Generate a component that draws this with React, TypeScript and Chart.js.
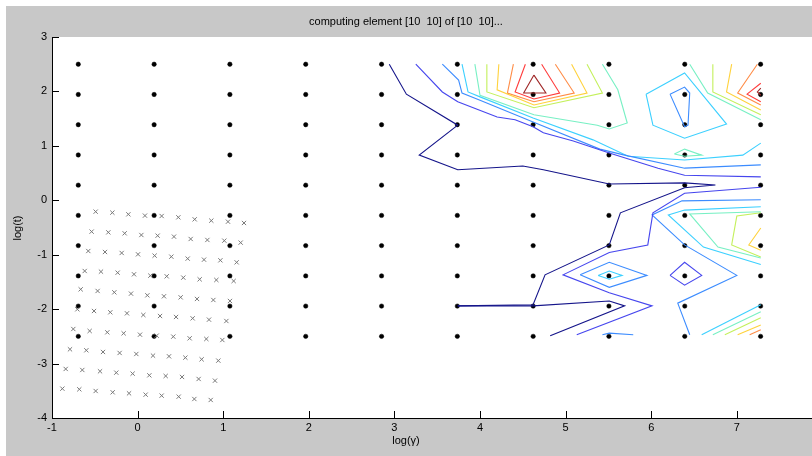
import React, { useEffect, useRef } from 'react';
import { Chart, registerables } from 'chart.js';
Chart.register(...registerables);

const titleText = 'computing element [10  10] of [10  10]...';
const xLabel = 'log(γ)';
const yLabel = 'log(t)';
const xTicks = [-1, 0, 1, 2, 3, 4, 5, 6, 7];
const yTicks = [-4, -3, -2, -1, 0, 1, 2, 3];

const gammaGrid = [-0.693, 0.193, 1.078, 1.964, 2.85, 3.735, 4.621, 5.506, 6.392, 7.278];
const tGrid = [-2.5, -1.944, -1.389, -0.833, -0.278, 0.278, 0.833, 1.389, 1.944, 2.5];

const crossX = [
  -0.49, -0.295, -0.108, 0.086, 0.281, 0.476, 0.667, 0.861, 1.056, 1.243,
  -0.537, -0.342, -0.151, 0.044, 0.234, 0.425, 0.62, 0.815, 1.013, 1.204,
  -0.576, -0.381, -0.186, 0.005, 0.199, 0.394, 0.585, 0.776, 0.967, 1.157,
  -0.618, -0.428, -0.233, -0.042, 0.149, 0.34, 0.534, 0.725, 0.92, 1.122,
  -0.665, -0.467, -0.272, -0.077, 0.114, 0.308, 0.503, 0.694, 0.885, 1.079,
  -0.704, -0.509, -0.319, -0.124, 0.067, 0.262, 0.449, 0.643, 0.834, 1.037,
  -0.751, -0.56, -0.354, -0.163, 0.028, 0.223, 0.417, 0.608, 0.803, 0.99,
  -0.79, -0.599, -0.404, -0.21, -0.015, 0.18, 0.367, 0.558, 0.748, 0.943,
  -0.84, -0.646, -0.439, -0.249, -0.058, 0.137, 0.328, 0.519, 0.713, 0.904,
  -0.879, -0.681, -0.49, -0.291, -0.1, 0.094, 0.281, 0.48, 0.663, 0.854,
];
const crossY = [
  -0.209, -0.227, -0.258, -0.282, -0.289, -0.313, -0.35, -0.374, -0.393, -0.417,
  -0.576, -0.589, -0.607, -0.638, -0.65, -0.668, -0.711, -0.729, -0.742, -0.778,
  -0.932, -0.95, -0.968, -0.993, -1.017, -1.036, -1.072, -1.091, -1.103, -1.14,
  -1.299, -1.311, -1.33, -1.36, -1.385, -1.397, -1.421, -1.452, -1.464, -1.483,
  -1.636, -1.666, -1.691, -1.715, -1.746, -1.764, -1.783, -1.813, -1.832, -1.85,
  -2.003, -2.034, -2.058, -2.077, -2.107, -2.126, -2.144, -2.169, -2.193, -2.218,
  -2.365, -2.401, -2.426, -2.444, -2.469, -2.487, -2.505, -2.536, -2.548, -2.567,
  -2.738, -2.756, -2.787, -2.805, -2.824, -2.854, -2.867, -2.891, -2.922, -2.946,
  -3.099, -3.118, -3.142, -3.167, -3.185, -3.216, -3.228, -3.246, -3.283, -3.314,
  -3.461, -3.473, -3.504, -3.528, -3.547, -3.571, -3.589, -3.608, -3.651, -3.669,
];

const levelColors = ['#14148a', '#4646ee', '#3c8cff', '#3cd0ff', '#78f0c4', '#c4f05c', '#ffd23c', '#ff8c46', '#ff3c3c', '#a02828'];

// contour polylines, [log(gamma), log(t)]
const navyA = [[2.94, 2.5], [3.14, 1.95], [3.74, 1.38], [3.29, 0.83], [3.74, 0.56], [4.5, 0.63], [4.74, 0.56], [5.51, 0.3], [6.39, 0.32], [6.75, 0.28], [6.45, 0.24], [6.39, 0.23], [5.64, -0.23], [5.51, -0.82], [4.76, -1.37], [4.62, -1.92], [3.74, -1.94]];
const navyB = [[3.74, -1.94], [4.62, -1.94], [5.51, -1.85], [5.69, -1.94], [4.82, -2.49]];
const blueA = [[3.25, 2.5], [3.56, 1.99], [3.74, 1.81], [4.2, 1.53], [4.41, 1.48], [4.62, 1.35], [4.74, 1.24], [5.09, 1.09], [5.51, 0.87], [6.08, 0.59], [6.39, 0.46], [7.28, 0.43]];
const blueB = [[7.28, 0.24], [6.39, 0.13], [6.02, -0.23], [5.96, -0.82], [5.51, -0.96], [4.97, -1.37], [5.51, -1.7], [6.01, -1.94], [5.13, -2.47]];
const blueC = [[6.22, -1.38], [6.39, -1.14], [6.59, -1.38], [6.39, -1.56], [6.22, -1.38]];
const lightA = [[3.56, 2.5], [3.75, 2.21], [3.79, 1.97], [4.0, 1.84], [4.62, 1.44], [5.4, 0.94], [5.69, 0.83], [6.39, 0.59], [7.28, 0.65]];
const lightB = [[7.28, 0.01], [6.36, -0.01], [6.01, -0.27], [6.39, -0.82], [7.0, -1.38], [6.31, -1.89], [6.45, -2.47]];
const lightC = [[5.17, -1.37], [5.51, -1.14], [5.95, -1.38], [5.51, -1.6], [5.17, -1.37]];
const lightD = [[5.43, -2.47], [5.51, -2.44], [5.79, -2.47]];
const lightE = [[6.22, 1.95], [6.39, 2.08], [6.45, 1.97], [6.43, 1.38], [6.39, 1.35], [6.22, 1.95]];
const cyanA = [[3.79, 2.5], [3.86, 1.99], [4.0, 1.9], [4.62, 1.51], [5.32, 1.11], [5.73, 0.81], [6.39, 0.74], [7.07, 0.83], [7.28, 1.05]];
const cyanB = [[5.94, 1.95], [6.39, 2.34], [6.88, 1.4], [6.39, 1.14], [6.02, 1.38], [5.94, 1.95]];
const cyanC = [[7.28, -0.12], [6.39, -0.18], [6.2, -0.27], [6.61, -0.86], [7.28, -1.18]];
const cyanD = [[5.38, -1.38], [5.51, -1.3], [5.66, -1.38], [5.51, -1.45], [5.38, -1.38]];
const cyanE = [[6.59, -2.47], [7.28, -1.92]];
const aquaA = [[3.94, 2.5], [4.0, 1.93], [4.63, 1.57], [5.37, 1.38], [5.51, 1.31], [5.72, 1.42], [5.61, 2.03], [5.43, 2.5]];
const aquaB = [[6.45, 2.5], [6.66, 1.97], [7.28, 1.48]];
const aquaC = [[6.27, 0.85], [6.39, 0.94], [6.59, 0.83], [6.39, 0.81], [6.27, 0.85]];
const aquaD = [[7.28, -0.21], [6.45, -0.25], [6.78, -0.86], [7.28, -1.06]];
const aquaE = [[6.72, -2.47], [7.28, -2.05]];
const ygA = [[4.08, 2.5], [4.08, 1.99], [4.63, 1.7], [5.43, 1.97], [5.25, 2.5]];
const ygB = [[6.72, 2.5], [6.72, 1.99], [7.28, 1.57]];
const ygC = [[7.28, -0.23], [7.0, -0.29], [6.94, -0.82], [7.28, -1.04]];
const ygD = [[6.86, -2.47], [7.28, -2.16]];
const yelA = [[4.22, 2.5], [4.2, 2.03], [4.63, 1.75], [5.25, 1.97], [5.07, 2.5]];
const yelB = [[6.94, 2.5], [6.88, 1.99], [7.28, 1.66]];
const yelC = [[7.28, -0.51], [7.14, -0.82], [7.28, -0.92]];
const yelD = [[7.01, -2.47], [7.28, -2.29]];
const orgA = [[4.39, 2.5], [4.32, 1.97], [4.63, 1.81], [5.1, 1.97], [4.88, 2.5]];
const orgB = [[7.24, 2.5], [7.01, 1.97], [7.28, 1.75]];
const orgC = [[7.15, -2.47], [7.28, -2.38]];
const redA = [[4.53, 2.5], [4.41, 1.99], [4.63, 1.86], [4.93, 1.97], [4.72, 2.5]];
const redB = [[7.28, 2.15], [7.12, 1.95], [7.28, 1.81]];
const darkA = [[4.63, 2.3], [4.51, 1.97], [4.77, 1.97], [4.63, 2.3]];
const darkB = [[7.28, 2.06], [7.24, 1.99], [7.28, 1.93]];

const contourLines: [number, number[][]][] = [
  [0, navyA], [0, navyB],
  [1, blueA], [1, blueB], [1, blueC],
  [2, lightA], [2, lightB], [2, lightC], [2, lightD], [2, lightE],
  [3, cyanA], [3, cyanB], [3, cyanC], [3, cyanD], [3, cyanE],
  [4, aquaA], [4, aquaB], [4, aquaC], [4, aquaD], [4, aquaE],
  [5, ygA], [5, ygB], [5, ygC], [5, ygD],
  [6, yelA], [6, yelB], [6, yelC], [6, yelD],
  [7, orgA], [7, orgB], [7, orgC],
  [8, redA], [8, redB],
  [9, darkA], [9, darkB],
];

const FONT = "'Liberation Sans Narrow', 'Liberation Sans', Arial, sans-serif";

const decorPlugin = {
  id: 'decor',
  beforeDraw(chart: any) {
    const { ctx, chartArea, width, height } = chart;
    ctx.save();
    ctx.fillStyle = '#ffffff';
    ctx.fillRect(0, 0, width, height);
    ctx.fillStyle = '#c8c8c8';
    ctx.fillRect(6, 6, width - 6, height - 6);
    ctx.fillStyle = '#ffffff';
    ctx.fillRect(chartArea.left, chartArea.top, width - chartArea.left, chartArea.bottom - chartArea.top);
    ctx.restore();
  },
  afterDraw(chart: any) {
    const { ctx, chartArea, width } = chart;
    const xs = chart.scales.x;
    const ys = chart.scales.y;
    ctx.save();
    ctx.strokeStyle = '#000';
    ctx.lineWidth = 1;
    ctx.beginPath();
    ctx.moveTo(chartArea.left, Math.round(chartArea.bottom) + 0.5);
    ctx.lineTo(width, Math.round(chartArea.bottom) + 0.5);
    for (const v of xTicks) {
      const px = Math.round(xs.getPixelForValue(v)) + 0.5;
      ctx.moveTo(px, chartArea.bottom);
      ctx.lineTo(px, chartArea.bottom - 7);
    }
    for (const v of yTicks) {
      const py = Math.round(ys.getPixelForValue(v)) + 0.5;
      ctx.moveTo(chartArea.left, py);
      ctx.lineTo(chartArea.left + 7, py);
    }
    ctx.stroke();
    ctx.fillStyle = '#000';
    ctx.font = `11px ${FONT}`;
    ctx.textAlign = 'center';
    ctx.textBaseline = 'middle';
    ctx.fillText(titleText, 406, 22);
    ctx.fillText(xLabel, 406, 441);
    ctx.translate(18, 228);
    ctx.rotate(-Math.PI / 2);
    ctx.fillText(yLabel, 0, 0);
    ctx.restore();
  },
};

export default function App() {
  const ref = useRef<HTMLCanvasElement | null>(null);
  useEffect(() => {
    if (!ref.current) return;
    const dots: { x: number; y: number }[] = [];
    for (const g of gammaGrid) for (const t of tGrid) dots.push({ x: g, y: t });
    const crosses = crossX.map((x, i) => ({ x, y: crossY[i] }));
    const lineSets = contourLines.map(([lvl, pts]) => ({
      type: 'scatter' as const,
      data: pts.map(([x, y]) => ({ x, y })),
      showLine: true,
      borderColor: levelColors[lvl],
      backgroundColor: levelColors[lvl],
      borderWidth: 1.1,
      pointRadius: 0,
      tension: 0,
      fill: false,
    }));
    const chart = new Chart(ref.current, {
      type: 'scatter',
      data: {
        datasets: [
          ...lineSets,
          {
            data: crosses,
            pointStyle: 'crossRot',
            pointRadius: 3,
            borderColor: '#7a7a7a',
            backgroundColor: '#7a7a7a',
            borderWidth: 1,
          },
          {
            data: dots,
            pointStyle: 'circle',
            pointRadius: 2.2,
            borderColor: '#000',
            backgroundColor: '#000',
            borderWidth: 0.5,
          },
        ] as any,
      },
      options: {
        animation: false,
        responsive: false,
        devicePixelRatio: 1,
        layout: { padding: { top: 37, left: 0, right: 0, bottom: 0 } },
        plugins: { legend: { display: false }, tooltip: { enabled: false }, title: { display: false } },
        scales: {
          x: {
            type: 'linear',
            min: -1,
            max: 7.82,
            grid: { display: false, drawTicks: false, tickLength: 0 },
            border: { display: true, color: '#000', width: 1 },
            ticks: {
              stepSize: 1,
              includeBounds: false,
              autoSkip: false,
              maxRotation: 0,
              color: '#000',
              padding: 3,
              font: { family: FONT, size: 11 },
            },
            afterFit: (s: any) => { s.height = 38; s.paddingLeft = 0; s.paddingRight = 0; },
          },
          y: {
            type: 'linear',
            min: -4,
            max: 3,
            grid: { display: false, drawTicks: false, tickLength: 0 },
            border: { display: true, color: '#000', width: 1 },
            ticks: {
              stepSize: 1,
              autoSkip: false,
              color: '#000',
              padding: 5,
              font: { family: FONT, size: 11 },
            },
            afterFit: (s: any) => { s.width = 52; s.paddingTop = 0; s.paddingBottom = 0; },
          },
        },
      },
      plugins: [decorPlugin],
    });
    return () => chart.destroy();
  }, []);
  return (
    <div style={{ position: 'absolute', left: 0, top: 0, width: 812, height: 456 }}>
      <canvas ref={ref} width={812} height={456} style={{ display: 'block' }} />
    </div>
  );
}
